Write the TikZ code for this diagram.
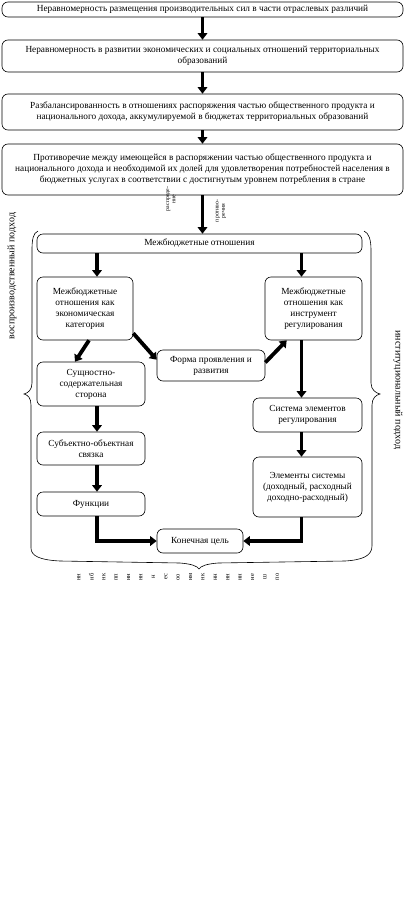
\documentclass[tikz,border=0pt]{standalone}
\usepackage{fontspec}
\setmainfont{Liberation Serif}
\usetikzlibrary{arrows.meta}
\begin{document}
\begin{tikzpicture}[x=1pt,y=-1pt,
  box/.style={draw, rounded corners=6pt, line width=0.6pt, align=center,
    font=\fontsize{9.3}{11}\selectfont, inner sep=0pt},
  arr/.style={line width=3.8pt, -{Triangle[length=6.5pt,width=9.5pt]}},
  side/.style={font=\fontsize{10}{11}\selectfont, inner sep=0pt},
  tiny/.style={font=\fontsize{5.8}{6.2}\selectfont, inner sep=0pt, align=center},
  frag/.style={font=\fontsize{6.5}{7}\selectfont, inner sep=0pt},
  brace/.style={line width=0.6pt}
]
\useasboundingbox (0,0) rectangle (409,897);

% top chain
\node[box, minimum width=401pt, minimum height=15pt] (b1) at (202.5,9.5)
  {Неравномерность размещения производительных сил в части отраслевых различий};
\node[box, minimum width=401pt, minimum height=32pt] (b2) at (202.5,56)
  {Неравномерность в развитии экономических и социальных отношений территориальных\\образований};
\node[box, minimum width=401pt, minimum height=36pt] (b3) at (202.5,112)
  {Разбалансированность в отношениях распоряжения частью общественного продукта и\\национального дохода, аккумулируемой в бюджетах территориальных образований};
\node[box, minimum width=401pt, minimum height=51pt] (b4) at (202.5,169.5)
  {Противоречие между имеющейся в распоряжении частью общественного продукта и\\национального дохода и необходимой их долей для удовлетворения потребностей населения в\\бюджетных услугах в соответствии с достигнутым уровнем потребления в стране};

% inner boxes
\node[box, minimum width=325pt, minimum height=19pt] (mb) at (199.5,243.5) {Межбюджетные отношения};
\node[box, minimum width=96pt, minimum height=63pt] (L1) at (85,308.5)
  {Межбюджетные\\отношения как\\экономическая\\категория};
\node[box, minimum width=97pt, minimum height=63pt] (R1) at (313.5,308.5)
  {Межбюджетные\\отношения как\\инструмент\\регулирования};
\node[box, minimum width=108pt, minimum height=31pt] (forma) at (211,365.5)
  {Форма проявления и\\развития};
\node[box, minimum width=108pt, minimum height=44pt] (sush) at (91,384)
  {Сущностно-\\содержательная\\сторона};
\node[box, minimum width=108pt, minimum height=33pt] (subj) at (91,448.5)
  {Субъектно-объектная\\связка};
\node[box, minimum width=108pt, minimum height=24pt] (func) at (91,504) {Функции};
\node[box, minimum width=86pt, minimum height=24pt] (kon) at (200,541) {Конечная цель};
\node[box, minimum width=109pt, minimum height=34pt] (sys) at (307.5,415)
  {Система элементов\\регулирования};
\node[box, minimum width=109pt, minimum height=60pt] (elem) at (307.5,487)
  {Элементы системы\\(доходный, расходный\\доходно-расходный)};

% arrows top chain
\draw[arr] (b1) -- (b2);
\draw[arr] (b2) -- (b3);
\draw[arr] (b3) -- (b4);
\draw[arr] (b4.south) -- (b4.south |- mb.north);

% inner arrows
\draw[arr] ([xshift=12pt]L1.north |- mb.south) -- ([xshift=12pt]L1.north);
\draw[arr] ([xshift=-12pt]R1.north |- mb.south) -- ([xshift=-12pt]R1.north);
\draw[arr] ([xshift=4pt]L1.south) -- ([xshift=-16pt]sush.north);
\draw[arr] ([yshift=7pt]L1.south east) -- ([yshift=-10pt]forma.north west);
\draw[arr] ([yshift=3pt]forma.east) -- ([xshift=22pt]R1.south west);
\draw[arr] ([xshift=-12pt]R1.south) -- ([xshift=-12pt]R1.south |- sys.north);
\draw[arr] ([xshift=-6pt]sys.south) -- ([xshift=-6pt]elem.north);
\draw[arr] ([xshift=6pt]sush.south) -- ([xshift=6pt]subj.north);
\draw[arr] ([xshift=6pt]subj.south) -- ([xshift=6pt]func.north);
\draw[arr] ([xshift=6pt]func.south) |- (kon.west);
\draw[arr] ([xshift=-6pt]elem.south) |- (kon.east);

% braces outline
\draw[brace] (38,231) .. controls (33,233) and (32,240) .. (32,250) -- (32,383)
  .. controls (32,390) and (28,393) .. (24,394) .. controls (28,395) and (31,398) .. (31,405)
  -- (31,548) .. controls (31,556) and (40,560) .. (60,561) -- (180,563)
  .. controls (192,564) and (197,566) .. (199,569) .. controls (201,566) and (206,564) .. (218,563)
  -- (345,561) .. controls (362,560) and (372,556) .. (372,546) -- (372,405)
  .. controls (372,398) and (376,395) .. (380,394) .. controls (376,393) and (371,390) .. (371,383)
  -- (371,250) .. controls (371,240) and (369,233) .. (364,231);

% side labels
\node[side, rotate=90] (lv) at (12,276) {воспроизводственный подход};
\node[side, rotate=-90] (rv) at (398,390) {институциональный подход};

% small labels near arrow
\node[tiny, rotate=90] (t1) at (171,199) {распреде-\\ние};
\node[tiny, rotate=90] (t2) at (221,211) {противо-\\речия};

% bottom fragments
\foreach \s [count=\i from 0] in {нн,нб,нк,пп,нн,нн,н,ес,оо,нм,нк,нн,нн,нн,не,ш,по}{
  \node[frag, rotate=90] (g\i) at ({79+12.4*\i},577) {\s};
}
\end{tikzpicture}
\end{document}
